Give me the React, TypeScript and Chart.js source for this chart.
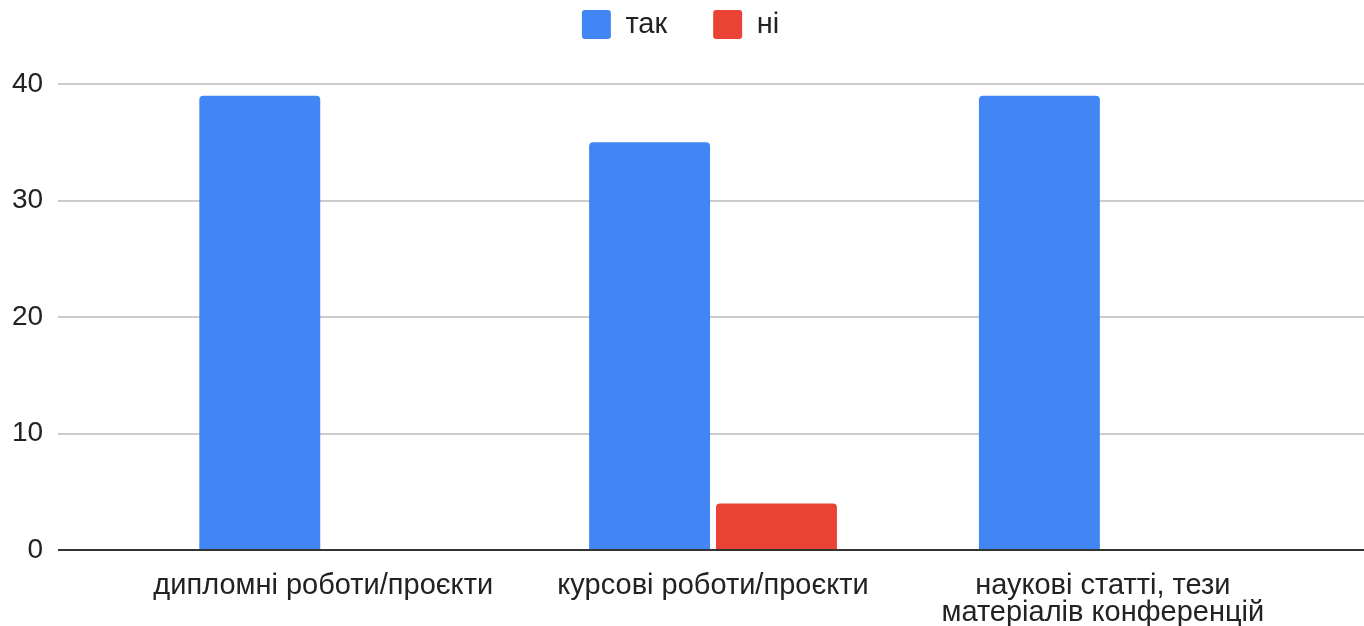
import React, { useEffect, useRef } from "react";
import { Chart, registerables } from "chart.js";

Chart.register(...registerables);

const categories: (string | string[])[] = [
  "дипломні роботи/проєкти",
  "курсові роботи/проєкти",
  ["наукові статті, тези", "матеріалів конференцій"],
];
const seriesNames = ["так", "ні"];
const yesValues = [39, 35, 39];
const noValues = [0, 4, 0];
const yTicks = [0, 10, 20, 30, 40];

const FONT = "'Liberation Sans', Arial, sans-serif";

const legendSpacer = {
  id: "legendSpacer",
  beforeInit(chart: any) {
    const legend = chart.legend;
    if (!legend) return;
    const origFit = legend.fit;
    legend.fit = function () {
      origFit.call(this);
      this.height += 35;
    };
  },
};

export default function App() {
  const ref = useRef<HTMLCanvasElement | null>(null);

  useEffect(() => {
    document.body.style.margin = "0";
    if (!ref.current) return;
    const chart = new Chart(ref.current, {
      type: "bar",
      data: {
        datasets: [
          {
            label: seriesNames[0],
            data: yesValues.map((v, i) => ({ x: i, y: v })),
            backgroundColor: "#4285F4",
            borderRadius: 4,
            categoryPercentage: 0.651,
            barPercentage: 0.953,
          },
          {
            label: seriesNames[1],
            data: noValues.map((v, i) => ({ x: i, y: v })),
            backgroundColor: "#EA4335",
            borderRadius: 4,
            categoryPercentage: 0.651,
            barPercentage: 0.953,
          },
        ],
      },
      options: {
        animation: false,
        responsive: true,
        maintainAspectRatio: false,
        layout: { padding: { top: -36, left: -3, right: 0, bottom: -14 } },
        plugins: {
          tooltip: { enabled: false },
          legend: {
            display: true,
            position: "top",
            labels: {
              boxWidth: 29,
              boxHeight: 29,
              padding: 46,
              color: "#222222",
              useBorderRadius: true,
              borderRadius: 3,
              font: { family: FONT, size: 29 },
            },
          },
        },
        scales: {
          x: {
            type: "linear",
            offset: false,
            min: -0.68,
            max: 2.67,
            grid: { display: false },
            border: { display: false },
            afterBuildTicks: (axis: any) => {
              axis.ticks = categories.map((_, i) => ({ value: i }));
            },
            ticks: {
              autoSkip: false,
              maxRotation: 0,
              padding: 14,
              color: "#222222",
              font: { family: FONT, size: 29, lineHeight: 27 / 29 },
              callback: (value: any) => {
                const i = Math.round(Number(value));
                return categories[i] !== undefined ? (categories[i] as any) : "";
              },
            },
          },
          y: {
            min: 0,
            max: 40,
            afterBuildTicks: (axis: any) => {
              axis.ticks = yTicks.map((v) => ({ value: v }));
            },
            grid: {
              drawTicks: false,
              lineWidth: 2,
              color: (ctx: any) =>
                ctx.tick && ctx.tick.value === 0 ? "#333333" : "#cccccc",
            },
            border: { display: false },
            ticks: {
              padding: 15,
              color: "#222222",
              font: { family: FONT, size: 28 },
            },
          },
        },
      },
      plugins: [legendSpacer],
    });
    return () => chart.destroy();
  }, []);

  return (
    <div style={{ position: "relative", width: "1364px", height: "626px" }}>
      <canvas ref={ref} />
    </div>
  );
}
